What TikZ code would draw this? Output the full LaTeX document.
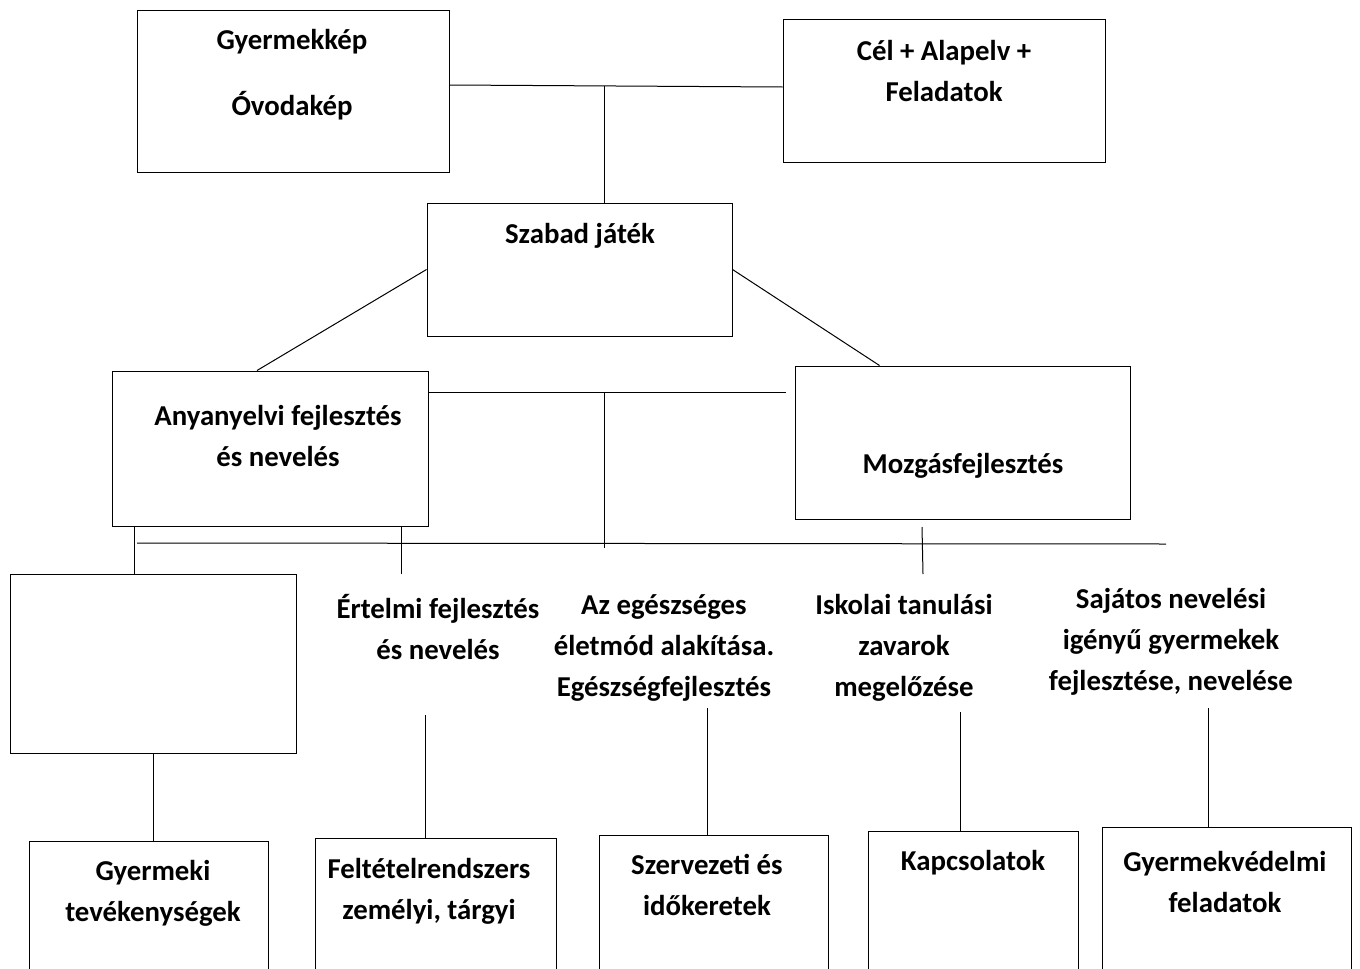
\documentclass[tikz,border=0pt]{standalone}
\usepackage{fontspec}
\setmainfont{Carlito}
\usetikzlibrary{positioning}

\begin{document}
\begin{tikzpicture}[x=1pt,y=-1pt,
    doboz/.style={draw,line width=1pt,inner sep=0pt},
    felirat/.style={align=center,inner sep=0pt,font=\fontsize{28.8}{41}\selectfont\bfseries},
    vonal/.style={line width=1pt}]
  \useasboundingbox (0,0) rectangle (1360,969);
  \clip (0,0) rectangle (1360,969);

  \node[doboz,minimum width=312pt,minimum height=162pt] (gyk) at (293,91) {};
  \node[doboz,minimum width=322pt,minimum height=143pt] (cel) at (944,90.5) {};
  \node[doboz,minimum width=305pt,minimum height=133pt] (szj) at (579.5,269.5) {};
  \node[doboz,minimum width=316pt,minimum height=155pt] (any) at (270,448.5) {};
  \node[doboz,minimum width=335pt,minimum height=153pt] (moz) at (962.5,442.5) {};
  \node[doboz,minimum width=286pt,minimum height=179pt] (ures) at (153,663.5) {};
  \node[doboz,minimum width=239pt,minimum height=149pt] (gyt) at (148.5,915.5) {};
  \node[doboz,minimum width=241pt,minimum height=152pt] (felt) at (435.5,914) {};
  \node[doboz,minimum width=229pt,minimum height=155pt] (szerv) at (713.5,912.5) {};
  \node[doboz,minimum width=210pt,minimum height=159pt] (kapcs) at (973,910.5) {};
  \node[doboz,minimum width=249pt,minimum height=163pt] (gyv) at (1226.5,908.5) {};

  \node[felirat] (gyk-t) at (292,75) {Gyermekkép\\[25pt]Óvodakép};
  \node[felirat] (cel-t) at (944,71.5) {Cél + Alapelv +\\Feladatok};
  \node[felirat] (szj-t) at (580,236) {Szabad játék};
  \node[felirat] (any-t) at (278,435.5) {Anyanyelvi fejlesztés\\és nevelés};
  \node[felirat] (moz-t) at (963,466) {Mozgásfejlesztés};
  \node[felirat] (ert) at (438,627) {Értelmi fejlesztés\\és nevelés};
  \node[felirat] (egesz) at (664,647.5) {Az egészséges\\életmód alakítása.\\Egészségfejlesztés};
  \node[felirat] (isk) at (904,647.5) {Iskolai tanulási\\zavarok\\megelőzése};
  \node[felirat] (saj) at (1171,641.5) {Sajátos nevelési\\igényű gyermekek\\fejlesztése, nevelése};
  \node[felirat] (gyt-t) at (153,893) {Gyermeki\\tevékenységek};
  \node[felirat] (felt-t) at (429,891) {Feltételrendszers\\zemélyi, tárgyi};
  \node[felirat] (szerv-t) at (707,885) {Szervezeti és\\időkeretek};
  \node[felirat] (kapcs-t) at (973,863) {Kapcsolatok};
  \node[felirat] (gyv-t) at (1225,882) {Gyermekvédelmi\\feladatok};

  \coordinate (t1) at (604,86);
  \coordinate (m1) at (604,392);
  \coordinate (m2) at (786,392);
  \coordinate (m3) at (604,548);
  \coordinate (h1) at (137,543);
  \coordinate (h2) at (1166,544);
  \coordinate (e1) at (401,574);
  \coordinate (z1) at (922,527);
  \coordinate (z2) at (923,574);
  \coordinate (f1) at (425,715);
  \coordinate (s1) at (707,708);
  \coordinate (k1) at (960,712);
  \coordinate (g1) at (1208,708);

  \begin{scope}[vonal]
    \draw (gyk.east |- 0,85) -- (cel.west |- 0,87);
    \draw (t1) -- (t1 |- szj.north);
    \draw (szj.west) -- ([xshift=-13pt]any.north);
    \draw (szj.east) -- ([xshift=-83pt]moz.north);
    \draw (any.east |- m1) -- (m2);
    \draw (m1) -- (m3);
    \draw (h1) -- (h2);
    \draw (any.south -| 134,0) -- (ures.north -| 134,0);
    \draw (any.south -| e1) -- (e1);
    \draw (z1) -- (z2);
    \draw (ures.south) -- (ures.south |- gyt.north);
    \draw (f1) -- (f1 |- felt.north);
    \draw (s1) -- (s1 |- szerv.north);
    \draw (k1) -- (k1 |- kapcs.north);
    \draw (g1) -- (g1 |- gyv.north);
  \end{scope}
\end{tikzpicture}
\end{document}
